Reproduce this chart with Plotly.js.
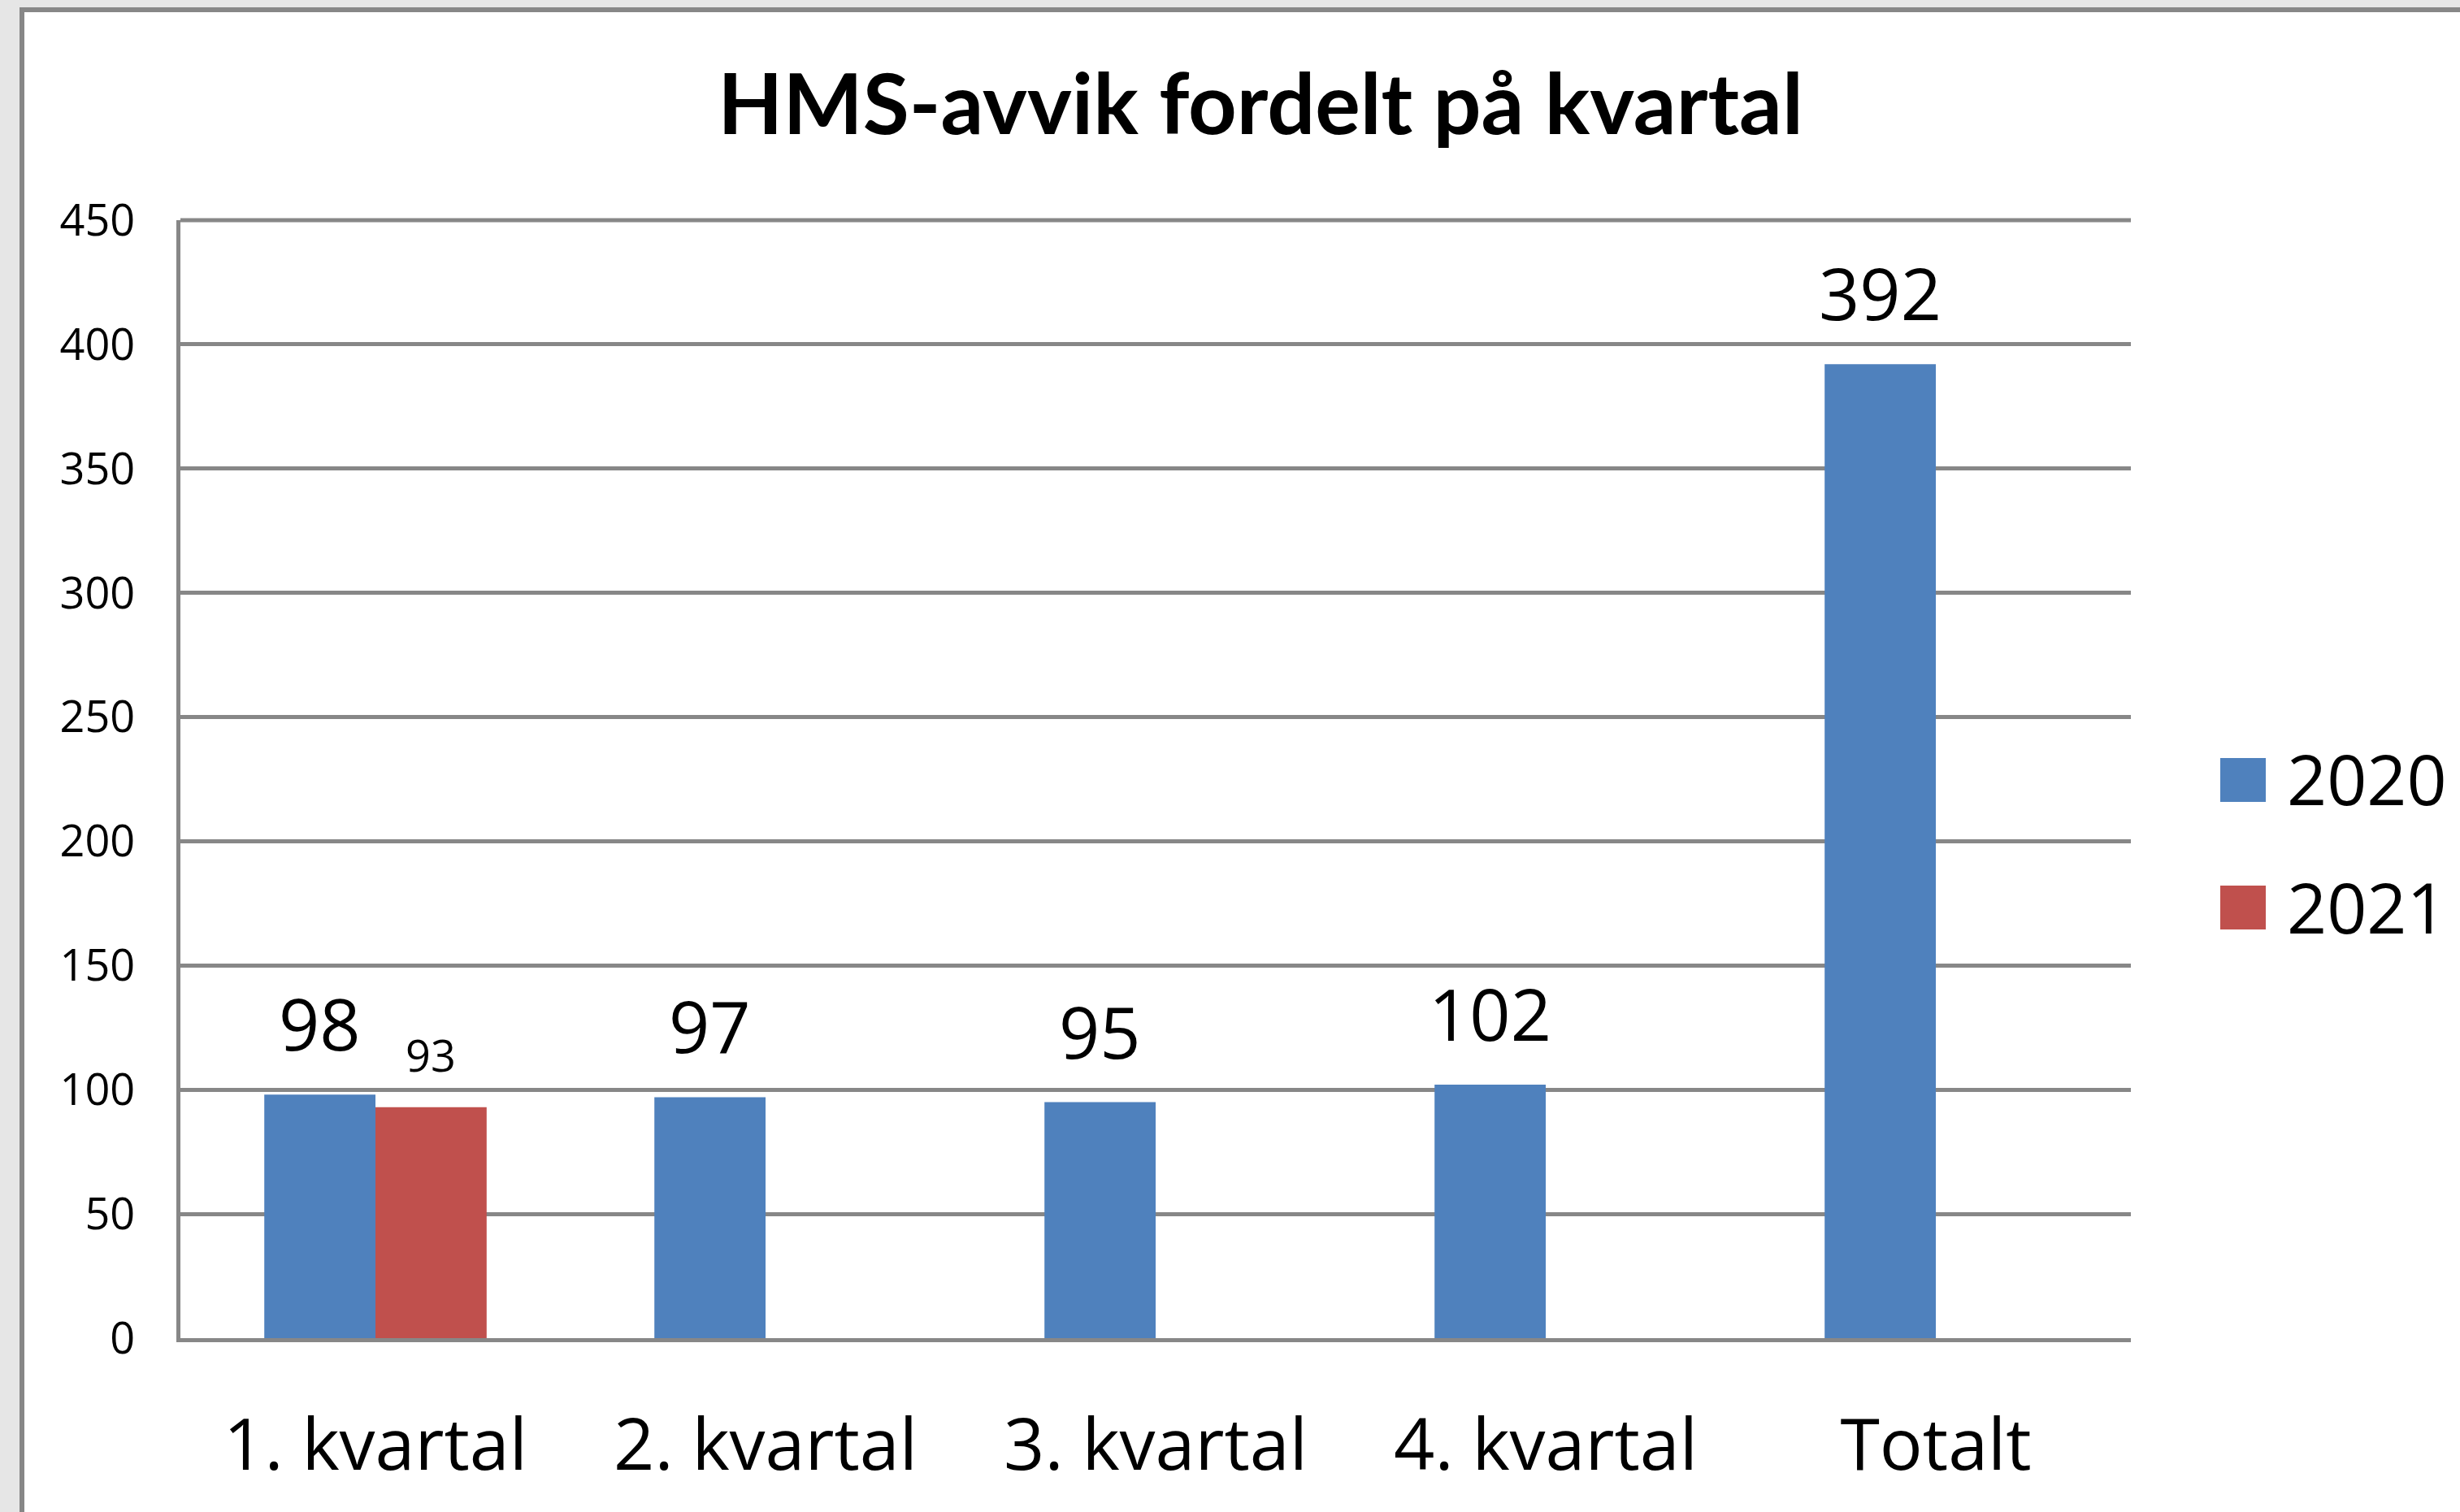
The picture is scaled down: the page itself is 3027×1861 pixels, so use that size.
<!DOCTYPE html>
<html>
<head>
<meta charset="utf-8">
<script src="https://cdn.plot.ly/plotly-3.0.1.min.js"></script>
<style>
  html, body { margin: 0; padding: 0; background: #e6e6e6; overflow: hidden; }
  #frame { position: absolute; left: 24px; top: 9px; width: 3003px; height: 1852px;
           border-left: 6px solid #878787; border-top: 6px solid #878787; background: #fff; }
  #chart { width: 2997px; height: 1846px; }
</style>
</head>
<body>
<div id="frame"><div id="chart"></div></div>
<script>
// ---- data ----
const categories = ["1. kvartal", "2. kvartal", "3. kvartal", "4. kvartal", "Totalt"];
const seriesNames = ["2020", "2021"];
const values2020 = [98, 97, 95, 102, 392];
const values2021 = [93, null, null, null, null];
const seriesColors = ["#4F81BD", "#C0504D"];
const yTickVals = [0, 50, 100, 150, 200, 250, 300, 350, 400, 450];

// ---- layout constants ----
const W = 2997, H = 1846;
const M = { l: 192, r: 405, t: 256, b: 214 };
const PW = W - M.l - M.r, PH = H - M.t - M.b;
const BARGAP = 0.43;
const FONT = "Open Sans, Segoe UI, sans-serif";
const GRID = "#878787";
const yMax = Math.max(...yTickVals);

const series = [values2020, values2021];
const traces = series.map((vals, k) => ({
  type: "bar",
  name: seriesNames[k],
  x: categories,
  y: vals,
  marker: { color: seriesColors[k], line: { width: 0 } },
  showlegend: false,
  hoverinfo: "x+y+name"
}));

// data labels (2020 large, 2021 small), centred over each grouped bar
const labelSizes = [88, 54];
const half = (1 - BARGAP) / 4;
const annotations = [];
series.forEach((vals, k) => {
  vals.forEach((v, i) => {
    if (v === null) return;
    annotations.push({
      x: i + (k === 0 ? -half : half), y: v, xref: "x", yref: "y",
      text: String(v), showarrow: false, yanchor: "bottom", xanchor: "center",
      yshift: 26, font: { family: FONT, size: labelSizes[k], color: "#000" }
    });
  });
});

// manual legend with large square keys
const px2x = px => (px - 30 - M.l) / PW;          // page px -> paper x
const py2y = py => 1 - (py - 15 - M.t) / PH;       // page px -> paper y
const shapes = [];
// top gridline at the range maximum (Plotly drops the gridline on the plot edge)
shapes.push({
  type: "line", xref: "paper", yref: "paper", x0: 0, x1: 1, y0: 1, y1: 1,
  line: { color: GRID, width: 5 }, layer: "below"
});
const legendTop = [933, 1090];
seriesNames.forEach((nm, k) => {
  const top = legendTop[k];
  shapes.push({
    type: "rect", xref: "paper", yref: "paper",
    x0: px2x(2732), x1: px2x(2788), y0: py2y(top + 54), y1: py2y(top),
    fillcolor: seriesColors[k], line: { width: 0 }
  });
  annotations.push({
    xref: "paper", yref: "paper", x: px2x(2812), y: py2y(top + 25),
    xanchor: "left", yanchor: "middle", showarrow: false, text: nm,
    font: { family: FONT, size: 86, color: "#000" }
  });
});

const layout = {
  width: W, height: H,
  margin: M,
  paper_bgcolor: "#ffffff",
  plot_bgcolor: "#ffffff",
  barmode: "group",
  bargap: BARGAP,
  bargroupgap: 0,
  showlegend: false,
  title: {
    text: "<b>HMS-avvik fordelt på kvartal</b>",
    font: { family: "Lato, Open Sans, sans-serif", size: 104, color: "#000" },
    x: 1521 / W, xanchor: "center", xref: "container",
    y: 1 - 114 / H, yanchor: "middle", yref: "container"
  },
  xaxis: {
    type: "category",
    showline: true, linecolor: GRID, linewidth: 5,
    showgrid: false, zeroline: false, ticks: "",
    tickfont: { family: FONT, size: 88, color: "#000" },
    ticklabelstandoff: 51
  },
  yaxis: {
    range: [0, yMax], tickvals: yTickVals,
    showline: true, linecolor: GRID, linewidth: 5,
    showgrid: true, gridcolor: GRID, gridwidth: 5,
    zeroline: false, ticks: "",
    tickfont: { family: FONT, size: 54, color: "#000" },
    ticklabelstandoff: 40
  },
  shapes: shapes,
  annotations: annotations
};

Plotly.newPlot("chart", traces, layout, { staticPlot: true, displayModeBar: false });
</script>
</body>
</html>
